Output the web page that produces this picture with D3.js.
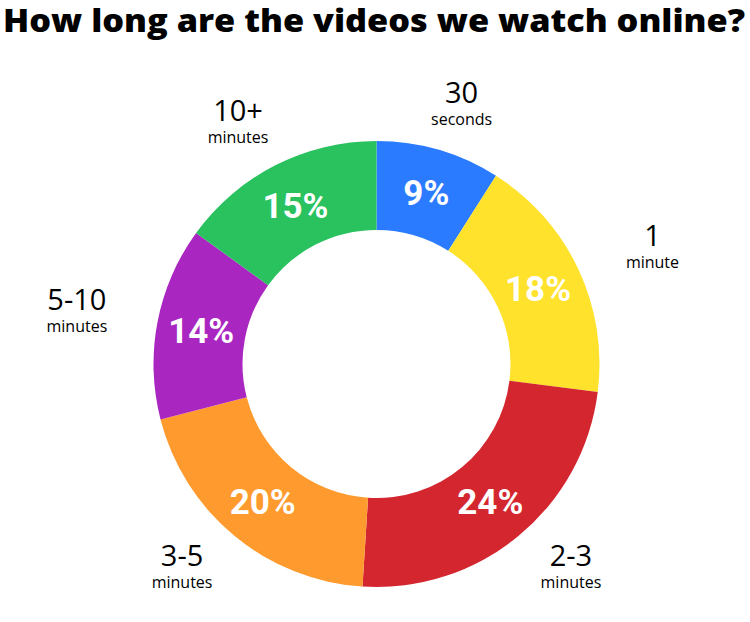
<!DOCTYPE html>
<html>
<head>
<meta charset="utf-8">
<script src="https://cdn.jsdelivr.net/npm/d3@7"></script>
<style>
  body { margin: 0; background: #fff; }
  svg { display: block; }
</style>
</head>
<body>
<svg id="chart"></svg>
<script>
// slices, clockwise from 12 o'clock
const labels = ['30', '1', '2-3', '3-5', '5-10', '10+'];
const units = ['seconds', 'minute', 'minutes', 'minutes', 'minutes', 'minutes'];
const shares = [9, 18, 24, 20, 14, 15];
const colors = ['#2a7bff', '#ffe22b', '#d4262f', '#fe9a2e', '#a927c0', '#2ac15f'];

const width = 750;
const height = 622;
const cx = 376.5;
const cy = 364;
const outerR = 223;
const innerR = 134;
// outside labels sit on a slightly flattened ring
const labelRx = 305;
const labelRy = 268;

const svg = d3.select('#chart')
  .attr('width', width)
  .attr('height', height);

svg.append('text')
  .attr('x', 3)
  .attr('y', 32)
  .attr('textLength', 742)
  .attr('lengthAdjust', 'spacingAndGlyphs')
  .style('font-family', '"Open Sans", sans-serif')
  .style('font-weight', 800)
  .style('font-size', '31px')
  .style('fill', '#000')
  .text('How long are the videos we watch online?');

const data = shares.map((v, i) => ({ label: labels[i], unit: units[i], value: v, color: colors[i] }));

const pie = d3.pie()
  .sort(null)
  .value(d => d.value);

const arcs = pie(data);

const arc = d3.arc()
  .innerRadius(innerR)
  .outerRadius(outerR);

const mid = d => (d.startAngle + d.endAngle) / 2;

const g = svg.append('g')
  .attr('transform', `translate(${cx}, ${cy})`);

g.selectAll('path')
  .data(arcs)
  .enter()
  .append('path')
  .attr('d', arc)
  .attr('fill', d => d.data.color);

g.selectAll('text.pct')
  .data(arcs)
  .enter()
  .append('text')
  .attr('class', 'pct')
  .attr('transform', d => `translate(${arc.centroid(d)})`)
  .attr('text-anchor', 'middle')
  .attr('dy', '0.36em')
  .style('font-family', 'Roboto, sans-serif')
  .style('font-weight', 700)
  .style('font-size', '35px')
  .style('fill', '#fff')
  .text(d => d.data.value + '%');

const outer = g.selectAll('g.lbl')
  .data(arcs)
  .enter()
  .append('g')
  .attr('class', 'lbl')
  .attr('transform', d => `translate(${labelRx * Math.sin(mid(d))}, ${-labelRy * Math.cos(mid(d)) - 2})`)
  .style('font-family', '"Open Sans", sans-serif')
  .style('fill', '#000')
  .attr('text-anchor', 'middle');

outer.append('text')
  .attr('y', -2)
  .style('font-size', '29px')
  .text(d => d.data.label);

outer.append('text')
  .attr('y', 20)
  .style('font-size', '16px')
  .text(d => d.data.unit);
</script>
</body>
</html>
